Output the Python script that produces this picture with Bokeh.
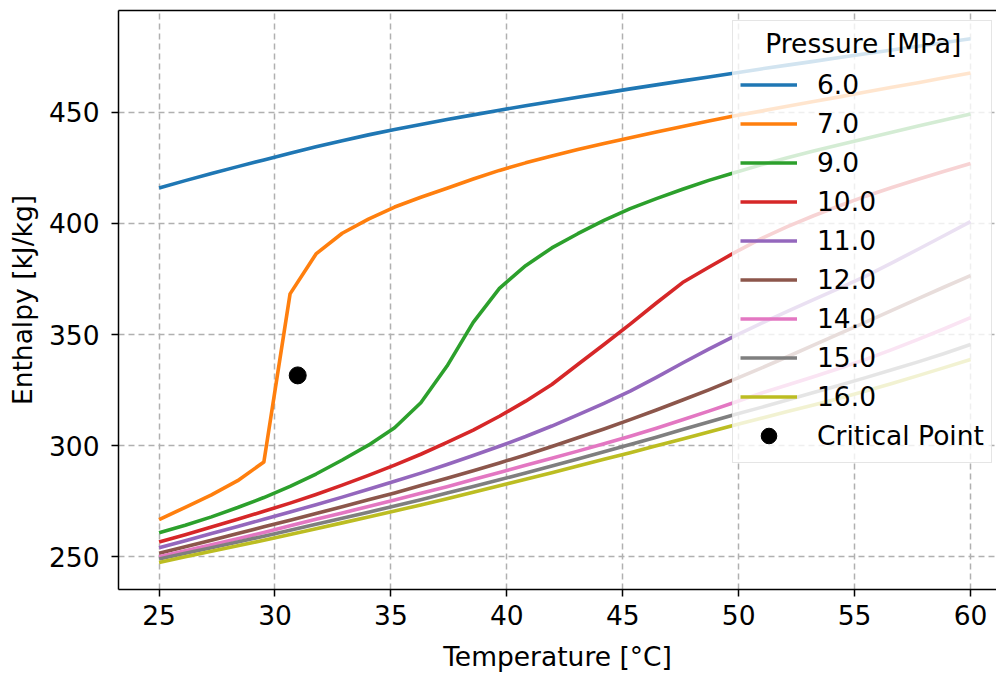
from bokeh.plotting import figure
from bokeh.models import Range1d, FixedTicker, Legend, LegendItem, LinearAxis
from bokeh.embed import file_html
from bokeh.resources import INLINE

# Temperatures [°C]
T = [25.00, 26.13, 27.26, 28.39, 29.52, 30.65, 31.77, 32.90, 34.03, 35.16, 36.29,
     37.42, 38.55, 39.68, 40.81, 41.94, 43.06, 44.19, 45.32, 46.45, 47.58, 48.71,
     49.84, 50.97, 52.10, 53.23, 54.35, 55.48, 56.61, 57.74, 58.87, 60.00]

# Enthalpy [kJ/kg] per pressure
h_6 = [416.0, 419.3, 422.5, 425.6, 428.6, 431.6, 434.5, 437.3, 439.9, 442.3, 444.6,
       446.8, 448.9, 451.0, 453.0, 454.9, 456.8, 458.7, 460.6, 462.4, 464.2, 466.0,
       467.8, 469.6, 471.3, 473.0, 474.7, 476.4, 478.1, 479.8, 481.5, 483.2]
h_7 = [266.7, 272.2, 277.8, 284.2, 292.6, 368.3, 386.3, 395.6, 402.0, 407.4, 411.8,
       415.9, 420.0, 423.9, 427.3, 430.4, 433.3, 436.0, 438.6, 441.2, 443.7, 446.1,
       448.5, 450.6, 452.8, 454.9, 457.0, 459.2, 461.3, 463.4, 465.6, 467.8]
h_9 = [260.8, 264.1, 267.9, 272.1, 276.6, 281.6, 287.2, 293.5, 300.2, 308.0, 319.3,
       335.8, 355.5, 370.8, 381.0, 389.0, 395.4, 401.4, 406.7, 411.2, 415.4, 419.4,
       423.0, 426.4, 429.6, 432.6, 435.5, 438.3, 441.1, 443.9, 446.6, 449.3]
h_10 = [256.6, 259.9, 263.3, 266.8, 270.4, 274.1, 278.0, 282.2, 286.6, 291.2, 296.1,
        301.4, 307.0, 313.2, 320.0, 327.5, 336.5, 345.5, 354.7, 364.2, 373.4, 380.3,
        387.0, 393.2, 398.6, 403.5, 408.0, 412.3, 416.2, 419.9, 423.5, 427.0]
h_11 = [254.0, 257.2, 260.4, 263.6, 266.8, 270.1, 273.4, 276.8, 280.3, 283.9, 287.6,
        291.5, 295.5, 299.7, 304.1, 308.8, 313.8, 319.0, 324.5, 330.7, 337.2, 343.4,
        349.4, 355.0, 360.4, 365.7, 370.9, 376.3, 382.3, 388.4, 394.6, 400.8]
h_12 = [251.5, 254.4, 257.4, 260.4, 263.4, 266.4, 269.4, 272.5, 275.6, 278.7, 282.0,
        285.3, 288.7, 292.2, 295.8, 299.6, 303.5, 307.5, 311.7, 316.0, 320.5, 325.1,
        329.9, 334.9, 340.0, 345.2, 350.4, 355.6, 360.9, 366.2, 371.4, 376.5]
h_14 = [250.0, 252.7, 255.4, 258.1, 260.9, 263.9, 266.8, 269.7, 272.6, 275.5, 278.5,
        281.5, 284.7, 287.9, 291.1, 294.3, 297.5, 300.8, 304.2, 307.8, 311.6, 315.5,
        319.5, 323.6, 327.3, 331.0, 334.8, 338.8, 343.2, 347.8, 352.6, 357.6]
h_15 = [248.9, 251.5, 254.0, 256.6, 259.2, 261.9, 264.6, 267.3, 270.0, 272.8, 275.6,
        278.6, 281.6, 284.6, 287.7, 290.8, 294.0, 297.2, 300.5, 303.8, 307.2, 310.6,
        314.0, 317.2, 320.5, 323.9, 327.2, 330.6, 334.1, 337.7, 341.5, 345.5]
h_16 = [247.4, 249.9, 252.4, 254.9, 257.4, 260.0, 262.6, 265.2, 267.8, 270.5, 273.3,
        276.1, 279.0, 281.9, 284.8, 287.8, 290.8, 293.8, 296.8, 299.9, 303.0, 306.1,
        309.3, 312.3, 315.3, 318.3, 321.3, 324.6, 328.0, 331.5, 335.1, 338.8]

pressure_labels = ["6.0", "7.0", "9.0", "10.0", "11.0", "12.0", "14.0", "15.0", "16.0"]
series = [h_6, h_7, h_9, h_10, h_11, h_12, h_14, h_15, h_16]
colors = ["#1f77b4", "#ff7f0e", "#2ca02c", "#d62728", "#9467bd",
          "#8c564b", "#e377c2", "#7f7f7f", "#bcbd22"]
legend_title = "Pressure [MPa]"

crit_T = [30.98]
crit_h = [331.6]

x_ticks = [25, 30, 35, 40, 45, 50, 55, 60]
y_ticks = [250, 300, 350, 400, 450]

FONT = "DejaVu Sans"
FS = "26.5px"

p = figure(width=996, height=674, output_backend="svg", toolbar_location=None,
           x_range=Range1d(23.25, 61.12), y_range=Range1d(235.2, 495.9),
           min_border_left=118, min_border_right=0, min_border_top=10,
           min_border_bottom=84)

xa = p.xaxis[0]
ya = p.yaxis[0]

p.outline_line_color = None
p.background_fill_color = "white"
p.border_fill_color = "white"

for ax in (xa, ya):
    ax.axis_line_color = "black"
    ax.axis_line_width = 1.5
    ax.major_tick_line_color = "black"
    ax.major_tick_line_width = 1.5
    ax.major_tick_out = 7
    ax.major_tick_in = 0
    ax.minor_tick_line_color = None
    ax.major_label_text_font = FONT
    ax.major_label_text_font_size = FS
    ax.major_label_text_color = "black"
    ax.axis_label_text_font = FONT
    ax.axis_label_text_font_size = FS
    ax.axis_label_text_font_style = "normal"
    ax.axis_label_text_color = "black"

xa.ticker = FixedTicker(ticks=x_ticks)
ya.ticker = FixedTicker(ticks=y_ticks)
xa.axis_label = "Temperature [°C]"
ya.axis_label = "Enthalpy [kJ/kg]"
xa.major_label_standoff = 8
ya.major_label_standoff = 12
xa.axis_label_standoff = 13
ya.axis_label_standoff = 8

# top spine only (no ticks, no labels)
top = LinearAxis(ticker=FixedTicker(ticks=[]), axis_line_color="black",
                 axis_line_width=1.5, major_tick_line_color=None,
                 minor_tick_line_color=None, major_label_text_font_size="0px",
                 major_tick_out=0, major_tick_in=0, major_label_standoff=0)
p.add_layout(top, "above")

for g in (p.xgrid[0], p.ygrid[0]):
    g.grid_line_color = "#b0b0b0"
    g.grid_line_width = 1.5
    g.grid_line_dash = "6 4"
p.xgrid[0].ticker = FixedTicker(ticks=x_ticks)
p.ygrid[0].ticker = FixedTicker(ticks=y_ticks)

items = []
for lab, hs, c in zip(pressure_labels, series, colors):
    r = p.line(T, hs, line_color=c, line_width=3.6, line_join="round")
    items.append(LegendItem(label=lab, renderers=[r]))

rc = p.scatter(crit_T, crit_h, size=17, color="black")
items.append(LegendItem(label="Critical Point", renderers=[rc]))

# leading no-break spaces centre the title over the entries, as in the original
legend = Legend(items=items, location=(614, 126),
                title="\u00a0\u00a0\u00a0" + legend_title)
legend.title_text_font = FONT
legend.title_text_font_size = FS
legend.title_text_font_style = "normal"
legend.title_text_color = "black"
legend.title_standoff = 6
legend.label_text_font = FONT
legend.label_text_font_size = FS
legend.label_text_color = "black"
legend.label_text_baseline = "middle"
legend.label_standoff = 20
legend.glyph_width = 57
legend.glyph_height = 39
legend.label_height = 39
legend.spacing = 0
legend.padding = 7
legend.margin = 0
legend.border_line_color = "#cccccc"
legend.border_line_width = 1.5
legend.background_fill_color = "white"
legend.background_fill_alpha = 0.8
p.add_layout(legend, "center")

open("out.html", "w").write(file_html(p, INLINE))
